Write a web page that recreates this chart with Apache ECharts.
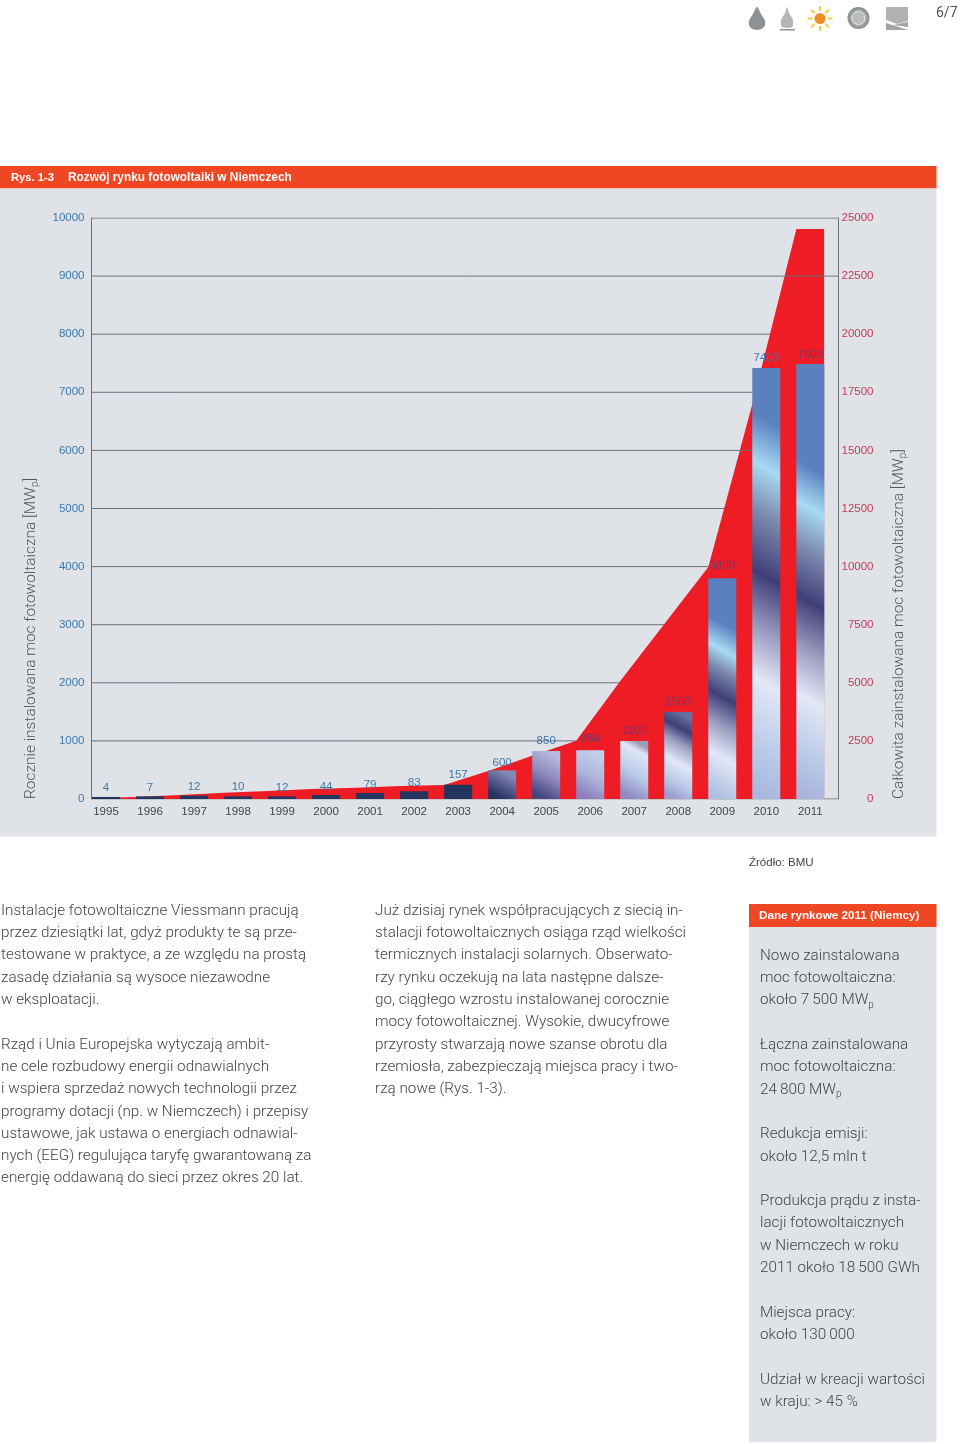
<!DOCTYPE html>
<html><head><meta charset="utf-8">
<style>html,body{margin:0;padding:0;background:#fff}#c{width:960px;height:1444px}</style>
<script src="https://cdn.jsdelivr.net/npm/echarts@6/dist/echarts.min.js"></script>
</head><body><div id="c"></div>
<script>
const years = ['1995','1996','1997','1998','1999','2000','2001','2002','2003','2004','2005','2006','2007','2008','2009','2010','2011'];
const annualHeights = [35,45,57,45,45,69,103,132,246,493,826,840,1000,1497,3800,7418,7487];
const annualLabels = ['4','7','12','10','12','44','79','83','157','600','850','850','1100','1500','3800','7400','7500'];
const totals = [40,90,172,271,344,430,486,559,602,1205,1863,2508,5077,7530,9983,17000,24526];
const underLevels = [1000,2000,3000,4000,5000,7000,8000];
const overLevels = [[6000,2010.35],[9000,2011.625],[10000,2011.625]];

const headerTitle1 = 'Rys. 1-3';
const headerTitle2 = 'Rozwój rynku fotowoltaiki w Niemczech';
const sourceText = 'Źródło: BMU';
const sideHeader = 'Dane rynkowe 2011 (Niemcy)';
const column1 = ['Instalacje fotowoltaiczne Viessmann pracują','przez dziesiątki lat, gdyż produkty te są prze-','testowane w praktyce, a ze względu na prostą','zasadę działania są wysoce niezawodne','w eksploatacji.','','Rząd i Unia Europejska wytyczają ambit-','ne cele rozbudowy energii odnawialnych','i wspiera sprzedaż nowych technologii przez','programy dotacji (np. w Niemczech) i przepisy','ustawowe, jak ustawa o energiach odnawial-','nych (EEG) regulująca taryfę gwarantowaną za','energię oddawaną do sieci przez okres 20 lat.'];
const column2 = ['Już dzisiaj rynek współpracujących z siecią in-','stalacji fotowoltaicznych osiąga rząd wielkości','termicznych instalacji solarnych. Obserwato-','rzy rynku oczekują na lata następne dalsze-','go, ciągłego wzrostu instalowanej corocznie','mocy fotowoltaicznej. Wysokie, dwucyfrowe','przyrosty stwarzają nowe szanse obrotu dla','rzemiosła, zabezpieczają miejsca pracy i two-','rzą nowe (Rys. 1-3).'];
const column3 = ['Nowo zainstalowana','moc fotowoltaiczna:','około 7\u2009500 MW{s|p}','','Łączna zainstalowana','moc fotowoltaiczna:','24\u2009800 MW{s|p}','','Redukcja emisji:','około 12,5 mln t','','Produkcja prądu z insta-','lacji fotowoltaicznych','w Niemczech w roku','2011 około 18\u2009500 GWh','','Miejsca pracy:','około 130\u2009000','','Udział w kreacji wartości','w kraju: > 45 %'];

const SANS = '"Liberation Sans"';
const BODY = 'Roboto';
const C_BAR = '#23345e';
// colour ramp; [pixel height above baseline, colour]
const shades = {
 '2004':[[28,'#8389b6'],[14,'#55598f'],[0,'#27335f']],
 '2005':[[48,'#b6b8de'],[24,'#8f88bc'],[0,'#454680']],
 '2006':[[49,'#c2cfea'],[24,'#aeb6dc'],[0,'#8a7fbc']],
 '2007':[[58,'#9c9db8'],[50,'#dfe6f5'],[24,'#b8c9e7'],[0,'#9089c2']],
 '2008':[[87,'#64709f'],[72,'#3f3f78'],[56,'#9d9fc2'],[36,'#e2e8f6'],[14,'#b5c7e6'],[0,'#9d9fd2']],
 '2009':[[221,'#5b80c0'],[176,'#5b80c0'],[149,'#a8daf3'],[128,'#7a86ac'],[102,'#3f3f78'],[72,'#9d9fc2'],[42,'#e2e8f6'],[0,'#aebfe2']],
 '2010':[[431,'#5b80c0'],[379,'#5b80c0'],[331,'#a8daf3'],[280,'#7a86ac'],[222,'#3f3f78'],[165,'#9d9fc2'],[116,'#e2e8f6'],[50,'#bccbe8'],[0,'#a9b6de']],
 '2011':[[435,'#5b80c0'],[332,'#5b80c0'],[291,'#a8daf3'],[245,'#7a86ac'],[197,'#3f3f78'],[145,'#9d9fc2'],[99,'#e2e8f6'],[40,'#b9c9e7'],[0,'#a9b4dc']]
};
const SLOPE = 0.55, BW = 28, PX_PER_UNIT = 581/10000;
function barFill(year, value){
  const st = shades[year];
  if(!st) return C_BAR;
  const h = value*PX_PER_UNIT;
  const pad = SLOPE*BW/2;
  const L = h + 2*pad;
  const k = L/(1+SLOPE*SLOPE);
  const y0 = -pad/h;
  const stops = st.map(([above,color])=>({offset:Math.min(1,Math.max(0,(h-above+pad)/L)),color}));
  stops.sort((a,b)=>a.offset-b.offset);
  return new echarts.graphic.LinearGradient(0.5,y0,0.5-SLOPE*k/BW,y0+k/h,stops);
}
const labelColors = annualLabels.map((_,i)=> i<11 ? '#3a78aa' : (i===15 ? '#4a70aa' : '#6e3a72'));
const labelDistances = [3,3,3,3.5,3,2.5,2.5,3,4,1.5,4,5,4,4,6,4,3.5];

const GRIDLINE = '#6d7276';
const X_MIN = 1994.671, X_MAX = 2011.625;
const ruleSeries = (level,end,z)=>({type:'line',name:'linia '+level,xAxisIndex:0,yAxisIndex:0,z,silent:true,
  symbol:'none',lineStyle:{color:GRIDLINE,width:1},data:[[X_MIN,level],[end,level]]});

function textEl(text,x,y,font,fill){
  return {type:'text',z:5,silent:true,x,y,style:{text,fill,font,verticalAlign:'middle'}};
}
const P = 22.3;
const bodyFont = '300 15.25px '+BODY;
function columnEls(lines,x,y0){
  return lines.map((t,i)=> t ? {type:'text',z:5,silent:true,x,y:y0+i*P,style:{
    text:t,fill:'#444',font:bodyFont,verticalAlign:'middle',rich:{s:{font:'300 10px '+BODY,fill:'#444',padding:[9,0,0,0]}}}} : null).filter(Boolean);
}
const axisTitle = (t,x)=>({type:'text',z:5,silent:true,x,y:799,rotation:Math.PI/2,style:{
  text:t,fill:'#555',font:'300 15.45px '+BODY,verticalAlign:'middle',align:'left',rich:{s:{font:'300 10px '+BODY,fill:'#555',padding:[8,0,0,0]}}}});

const rays = [0,45,90,135,180,225,270,315].map(d=>{
  const a=d*Math.PI/180;
  return {type:'line',z:4,silent:true,shape:{x1:820+Math.cos(a)*7.5,y1:18.5+Math.sin(a)*7.5,x2:820+Math.cos(a)*12.5,y2:18.5+Math.sin(a)*12.5},style:{stroke:'#f6cb45',lineWidth:2}};
});
const poly = (points,fill,smooth)=>({type:'polygon',z:4,silent:true,shape:{points,smooth:smooth||0},style:{fill}});
const icons = [
 poly([[757,7],[761,14],[765,21],[764,27],[757,30],[750,27],[749,21],[753,14]],'#8e9193',0.35),
 poly([[787,7],[789,13],[793,20],[792,27],[782,27],[781,20],[785,13]],'#b3b5b7',0.3),
 {type:'rect',z:4,silent:true,shape:{x:780,y:29,width:15,height:1.5},style:{fill:'#8e9193'}},
 ...rays,
 {type:'circle',z:4,silent:true,shape:{cx:820,cy:18.5,r:5.5},style:{fill:'#f08c28'}},
 {type:'circle',z:4,silent:true,shape:{cx:858.5,cy:18,r:10},style:{fill:'#a2a5a7',stroke:'#8e9193',lineWidth:2}},
 {type:'circle',z:4,silent:true,shape:{cx:858.5,cy:18,r:6.5},style:{fill:'#b9bbbd',stroke:'#e8e9ea',lineWidth:1}},
 poly([[886,7],[908,7],[908,21],[897,24],[886,20]],'#b0b2b4'),
 poly([[886,23],[908,30],[886,30]],'#a0a3a5'),
 poly([[893,25],[908,22],[908,27]],'#a0a3a5')
];

const chart = echarts.init(document.getElementById('c'),null,{renderer:'canvas',width:960,height:1444});
chart.setOption({
  animation:false,
  backgroundColor:'#ffffff',
  grid:[
    {left:91.5,top:218,width:746.5,height:581},
    {left:84,top:218,width:748.3,height:581}
  ],
  xAxis:[
    {type:'value',gridIndex:0,min:X_MIN,max:X_MAX,show:false},
    {type:'category',gridIndex:1,data:years,position:'bottom',
     axisLine:{show:false},axisTick:{show:false},
     axisLabel:{interval:0,margin:6.5,color:'#444',fontFamily:SANS,fontSize:11.5}}
  ],
  yAxis:[
    {type:'value',gridIndex:0,position:'left',min:0,max:10000,interval:1000,
     axisLine:{show:true,lineStyle:{color:GRIDLINE}},axisTick:{show:false},splitLine:{show:false},
     axisLabel:{margin:7,color:'#3a78aa',fontFamily:SANS,fontSize:11.5,formatter:v=>String(v)}},
    {type:'value',gridIndex:0,position:'right',min:0,max:25000,interval:2500,
     axisLine:{show:true,lineStyle:{color:GRIDLINE}},axisTick:{show:false},splitLine:{show:false},
     axisLabel:{margin:35.5,align:'right',color:'#c23b55',fontFamily:SANS,fontSize:11.5,formatter:v=>String(v)}},
    {type:'value',gridIndex:1,min:0,max:10000,show:false}
  ],
  series:[
    ruleSeries(0,X_MAX,1),
    ...underLevels.map(v=>ruleSeries(v,2010.15,1)),
    {type:'line',name:'Całkowita zainstalowana moc',xAxisIndex:0,yAxisIndex:1,z:2,silent:true,
     symbol:'none',lineStyle:{width:0},areaStyle:{color:'#ee1c25',opacity:1},
     data:years.map((y,i)=>[+y-0.32,totals[i]]).concat([[2011.31,totals[16]]])},
    ...overLevels.map(([v,end])=>ruleSeries(v,end,3)),
    {type:'bar',name:'Rocznie instalowana moc',xAxisIndex:1,yAxisIndex:2,z:4,silent:true,barWidth:BW,
     data:annualHeights.map((v,i)=>({value:v,
       itemStyle:{color:barFill(years[i],v)},
       label:{show:true,position:'top',distance:labelDistances[i],formatter:annualLabels[i],
              color:labelColors[i],fontFamily:SANS,fontSize:11.5}}))}
  ],
  graphic:{elements:[
    {type:'rect',z:-100,silent:true,shape:{x:0,y:166,width:936.5,height:22.5},style:{fill:'#ef4623'}},
    {type:'rect',z:-100,silent:true,shape:{x:0,y:188.5,width:936.5,height:648},style:{fill:'#dfe3e8'}},
    {type:'rect',z:-100,silent:true,shape:{x:749,y:904,width:187.5,height:23},style:{fill:'#ef4623'}},
    {type:'rect',z:-100,silent:true,shape:{x:749,y:927,width:187.5,height:515},style:{fill:'#dfe3e8'}},
    textEl(headerTitle1,11,177.5,'bold 11.2px '+SANS,'#fff'),
    textEl(headerTitle2,68,177.5,'bold 11.85px '+SANS,'#fff'),
    textEl(sideHeader,759,916,'bold 11.7px '+SANS,'#fff'),
    textEl(sourceText,749,862.5,'11.5px '+SANS,'#444'),
    textEl('6/7',936,13,'14px '+BODY,'#555'),
    axisTitle('Rocznie instalowana moc fotowoltaiczna [MW{s|p}]',31.5),
    axisTitle('Całkowita zainstalowana moc fotowoltaiczna [MW{s|p}]',899.5),
    ...columnEls(column1,1,911),
    ...columnEls(column2,375,911),
    ...columnEls(column3,760,956),
    ...icons
  ]}
});
</script></body></html>
